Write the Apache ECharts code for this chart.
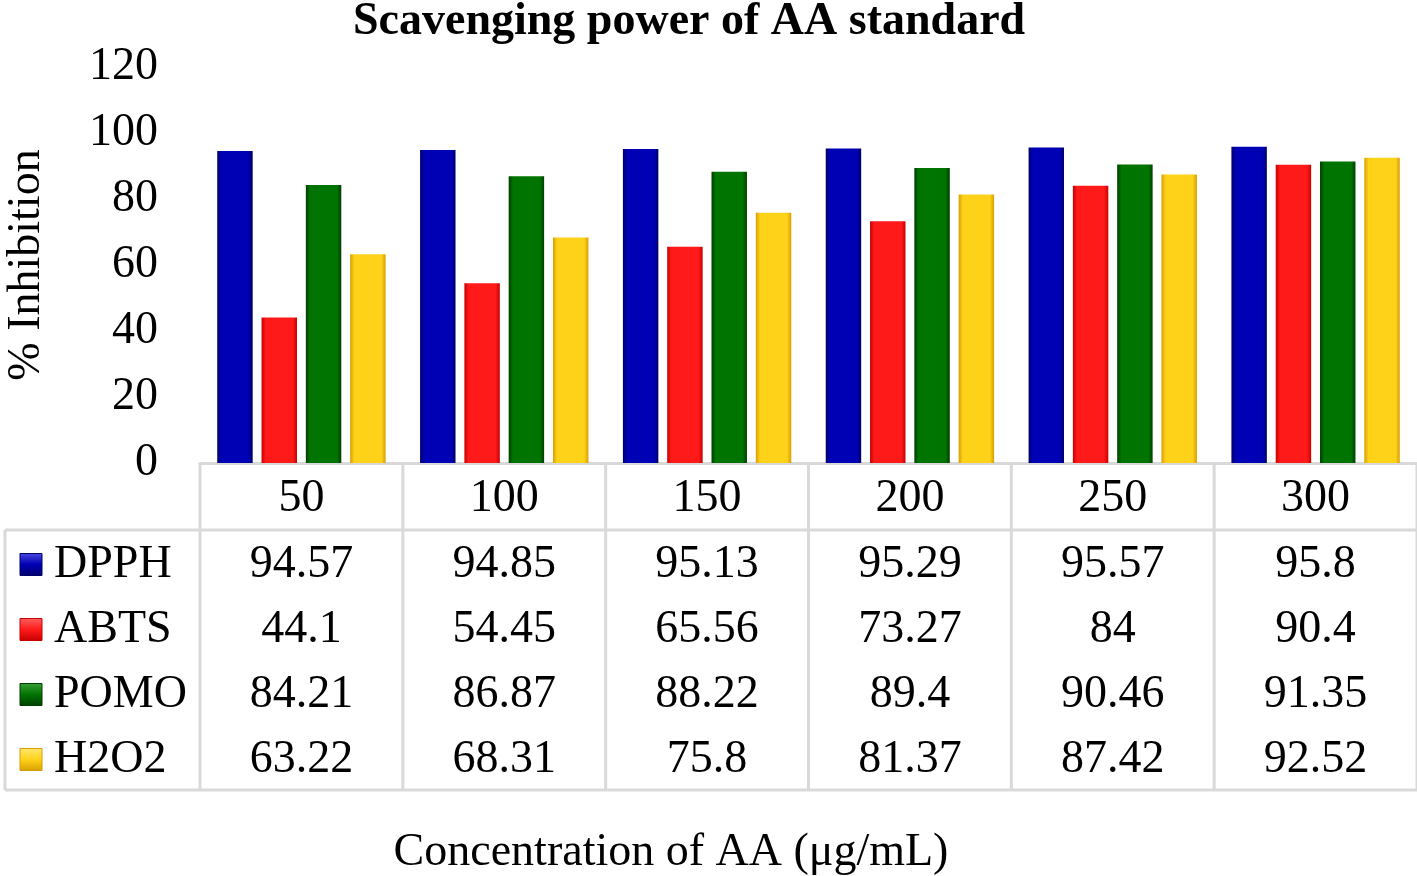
<!DOCTYPE html>
<html>
<head>
<meta charset="utf-8">
<script src="https://cdn.jsdelivr.net/npm/echarts@6/dist/echarts.min.js"></script>
<style>html,body{margin:0;padding:0;background:#fff;}#main{width:1417px;height:876px;}</style>
</head>
<body>
<div id="main"></div>
<script>
const categories = ['50', '100', '150', '200', '250', '300'];
const seriesNames = ['DPPH', 'ABTS', 'POMO', 'H2O2'];
const dpph = [94.57, 94.85, 95.13, 95.29, 95.57, 95.8];
const abts = [44.1, 54.45, 65.56, 73.27, 84, 90.4];
const pomo = [84.21, 86.87, 88.22, 89.4, 90.46, 91.35];
const h2o2 = [63.22, 68.31, 75.8, 81.37, 87.42, 92.52];
const seriesValues = [dpph, abts, pomo, h2o2];
const yTicks = [0, 20, 40, 60, 80, 100, 120];

const FONT = '"Liberation Serif", "Times New Roman", serif';
const FS = 46;
const palettes = [
  { edge: '#00006a', mid: '#0000b4', top: '#4a4ae0' },
  { edge: '#c80000', mid: '#ff1a1a', top: '#ff6060' },
  { edge: '#003e00', mid: '#007400', top: '#3aa03a' },
  { edge: '#d89e00', mid: '#ffd21a', top: '#ffe870' }
];

function grad(p) {
  return new echarts.graphic.LinearGradient(0, 0, 1, 0, [
    { offset: 0, color: p.edge },
    { offset: 0.12, color: p.mid },
    { offset: 0.88, color: p.mid },
    { offset: 1, color: p.edge }
  ]);
}

const chart = echarts.init(document.getElementById('main'), null, { renderer: 'canvas' });
const GRID = { left: 200, right: 0, top: 67, bottom: 413, containLabel: false, outerBoundsMode: 'none' };

chart.setOption({
  animation: false,
  backgroundColor: '#ffffff',
  title: {
    text: 'Scavenging power of AA standard',
    left: 348,
    top: -6,
    textStyle: { fontFamily: FONT, fontWeight: 'bold', fontSize: FS, color: '#000' }
  },
  grid: GRID,
  xAxis: {
    type: 'category',
    data: categories,
    axisLine: { show: true, lineStyle: { color: '#d9d9d9', width: 3 } },
    axisTick: { show: false },
    axisLabel: { fontFamily: FONT, fontSize: FS, color: '#000', margin: 13 },
    splitLine: { show: false }
  },
  yAxis: {
    type: 'value',
    min: 0, max: 120, interval: 20,
    name: '% Inhibition',
    nameLocation: 'middle',
    nameRotate: 90,
    nameGap: 150,
    nameTextStyle: { fontFamily: FONT, fontSize: FS, color: '#000' },
    axisLine: { show: false },
    axisTick: { show: false },
    splitLine: { show: false },
    axisLabel: {
      fontFamily: FONT, fontSize: FS, color: '#000', margin: 42,
      formatter: function (v) { return yTicks.indexOf(v) >= 0 ? String(v) : ''; }
    }
  },
  series: seriesNames.map(function (name, i) {
    return {
      name: name,
      type: 'bar',
      data: seriesValues[i],
      barGap: '25%',
      barCategoryGap: '17%',
      itemStyle: {
        color: grad(palettes[i]),
        shadowColor: 'rgba(0,0,0,0.35)',
        shadowBlur: 8,
        shadowOffsetX: 3,
        shadowOffsetY: 0
      }
    };
  })
});

function drawTable() {
  const c0 = chart.convertToPixel({ xAxisIndex: 0 }, 0);
  const c1 = chart.convertToPixel({ xAxisIndex: 0 }, 1);
  const bw = c1 - c0;
  const yAxis0 = chart.convertToPixel({ yAxisIndex: 0 }, 0);
  const headerBottom = yAxis0 + 67;
  const rowH = 65;
  const tableBottom = headerBottom + rowH * seriesNames.length;
  const leftEdge = 5;
  const lineStyle = { stroke: '#d9d9d9', lineWidth: 3 };
  const els = [];
  for (let k = 0; k <= categories.length; k++) {
    const x = c0 - bw / 2 + k * bw;
    els.push({ type: 'line', shape: { x1: x, y1: yAxis0, x2: x, y2: tableBottom }, style: lineStyle, silent: true });
  }
  els.push({ type: 'line', shape: { x1: leftEdge, y1: headerBottom, x2: leftEdge, y2: tableBottom }, style: lineStyle, silent: true });
  const xRight = c0 - bw / 2 + categories.length * bw;
  els.push({ type: 'line', shape: { x1: leftEdge, y1: headerBottom, x2: xRight, y2: headerBottom }, style: lineStyle, silent: true });
  els.push({ type: 'line', shape: { x1: leftEdge, y1: tableBottom, x2: xRight, y2: tableBottom }, style: lineStyle, silent: true });
  seriesNames.forEach(function (name, i) {
    const yc = headerBottom + rowH * i + rowH / 2 + 2;
    const p = palettes[i];
    els.push({
      type: 'rect', shape: { x: 20, y: yc - 11, width: 22, height: 22 },
      style: {
        fill: new echarts.graphic.LinearGradient(0, 0, 0, 1, [
          { offset: 0, color: p.top }, { offset: 0.5, color: p.mid }, { offset: 1, color: p.edge }
        ]),
        stroke: p.edge, lineWidth: 1
      }, silent: true
    });
    els.push({
      type: 'text', x: 54, y: yc,
      style: { text: name, fontFamily: FONT, fontSize: FS, fill: '#000', align: 'left', verticalAlign: 'middle' },
      silent: true
    });
    seriesValues[i].forEach(function (v, j) {
      const x = chart.convertToPixel({ xAxisIndex: 0 }, j);
      els.push({
        type: 'text', x: x, y: yc,
        style: { text: String(v), fontFamily: FONT, fontSize: FS, fill: '#000', align: 'center', verticalAlign: 'middle' },
        silent: true
      });
    });
  });
  els.push({
    type: 'text', x: 671, y: 853,
    style: { text: 'Concentration of AA (μg/mL)', fontFamily: FONT, fontSize: FS, fill: '#000', align: 'center', verticalAlign: 'middle' },
    silent: true
  });
  chart.setOption({ graphic: { elements: els } });
}
drawTable();
</script>
</body>
</html>
